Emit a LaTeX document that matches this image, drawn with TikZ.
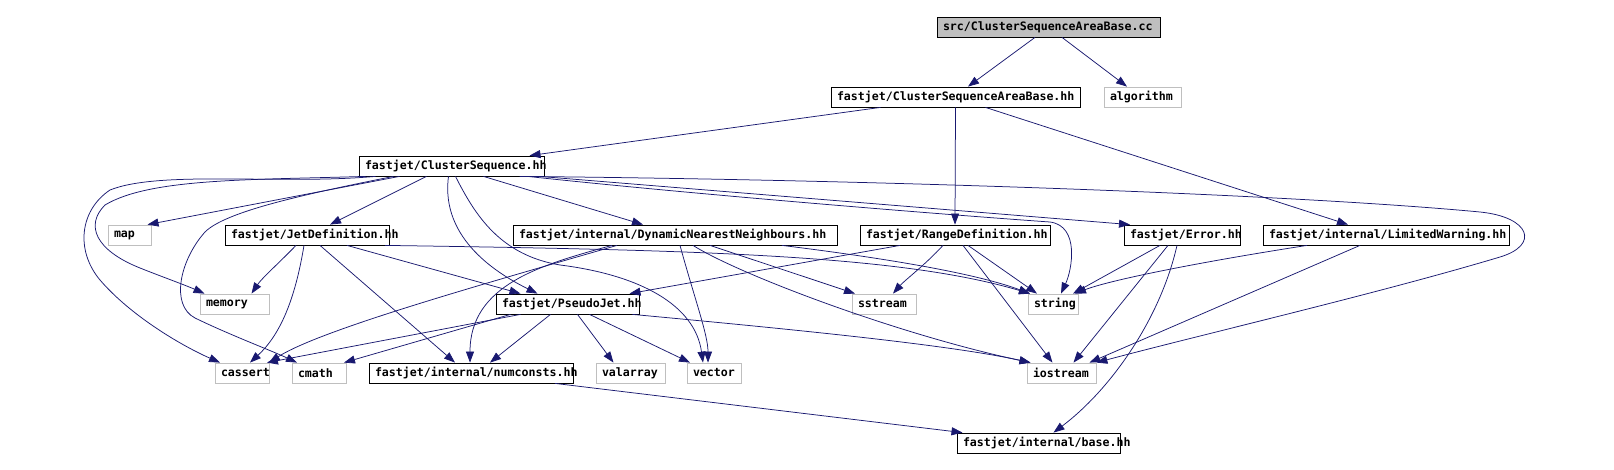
\documentclass[tikz,border=0pt]{standalone}
\usepackage{fontspec}
\newfontfamily\graphfont{DejaVu Sans Mono}
\usepackage{tikz}
\usetikzlibrary{arrows.meta,calc}
\definecolor{edgeblue}{HTML}{191970}
\definecolor{sysgray}{HTML}{BFBFBF}
\newcommand\fname[2]{\makebox[\dimexpr#1pt-12pt\relax][l]{#2}}
\tikzset{
  file/.style = {draw=black,fill=white,line width=0.8pt,minimum height=20pt,
                 inner xsep=6pt,inner ysep=0pt,
                 font=\graphfont\bfseries\fontsize{11.6}{12}\selectfont},
  sys/.style  = {file,draw=sysgray},
  src/.style  = {file,fill=sysgray},
  dep/.style  = {draw=edgeblue,line width=0.75pt,
                 -{Triangle[length=11pt,width=8pt]}},
}

\begin{document}
\begin{tikzpicture}[x=1pt,y=-1pt]
  \useasboundingbox (0,0) rectangle (1614,470);
  % project headers
  \node[src]  (root)      at (1048.5,27) {\fname{223}{src/ClusterSequenceAreaBase.cc}};
  \node[file] (csab)      at (955.5,97)  {\fname{249}{fastjet/ClusterSequenceAreaBase.hh}};
  \node[file] (cs)        at (451.5,166) {\fname{185}{fastjet/ClusterSequence.hh}};
  \node[file] (jetdef)    at (307,235)   {\fname{164}{fastjet/JetDefinition.hh}};
  \node[file] (dnn)       at (675,235)   {\fname{324}{fastjet/internal/DynamicNearestNeighbours.hh}};
  \node[file] (range)     at (955,235)   {\fname{190}{fastjet/RangeDefinition.hh}};
  \node[file] (error)     at (1182,235)  {\fname{116}{fastjet/Error.hh}};
  \node[file] (limwarn)   at (1386,235)  {\fname{246}{fastjet/internal/LimitedWarning.hh}};
  \node[file] (pseudojet) at (567.5,304) {\fname{143}{fastjet/PseudoJet.hh}};
  \node[file] (numconsts) at (471,373)   {\fname{204}{fastjet/internal/numconsts.hh}};
  \node[file] (base)      at (1038.5,443){\fname{163}{fastjet/internal/base.hh}};
  % system headers
  \foreach \id/\x/\y/\w in {algorithm/1142.5/97/77, map/129.5/235/43,
                            memory/234.5/304/69, sstream/884/304/64,
                            string/1053/304/50, cassert/242/373/54,
                            cmath/319/373/54, valarray/630.5/373/69,
                            vector/714/373/54, iostream/1061.5/373/69}{
    \node[sys] (\id) at (\x,\y) {\fname{\w}{\id}};
  }

  % source file
  \draw[dep] ([xshift=-13.5pt]root.south) -- ([xshift=12.5pt]csab.north);
  \draw[dep] ([xshift=13.5pt]root.south) -- ([xshift=-15.5pt]algorithm.north);
  % ClusterSequenceAreaBase.hh
  \draw[dep] ([xshift=-75pt]csab.south) -- ([xshift=78pt]cs.north);
  \draw[dep] (csab.south) -- (range.north);
  \draw[dep] ([xshift=30pt]csab.south) -- ([xshift=-38pt]limwarn.north);
  % ClusterSequence.hh
  \draw[dep] ([xshift=-52pt]cs.south) -- ([xshift=18pt]map.north);
  \draw[dep] ([xshift=-25pt]cs.south) -- ([xshift=23pt]jetdef.north);
  \draw[dep] ([xshift=32pt]cs.south) -- ([xshift=-32pt]dnn.north);
  \draw[dep] ([xshift=88pt]cs.south) -- ([xshift=-52pt]error.north);
  \draw[dep] ([xshift=-86pt]cs.south) .. controls (250,180) and (150,178) .. (105,205)
             .. controls (85,225) and (95,250) .. (140,268)
             .. controls (160,276) and (185,285) .. ([xshift=-30pt]memory.north);
  \draw[dep] ([xshift=-76pt]cs.south) .. controls (280,185) and (160,170) .. (110,190)
             .. controls (80,210) and (75,250) .. (100,280)
             .. controls (130,315) and (180,345) .. ([xshift=-22pt]cassert.north);
  \draw[dep] ([xshift=-58pt]cs.south) .. controls (300,195) and (225,212) .. (205,232)
             .. controls (180,260) and (170,305) .. (195,318)
             .. controls (230,335) and (270,350) .. ([xshift=-22pt]cmath.north);
  \draw[dep] ([xshift=-3pt]cs.south) .. controls (440,240) and (500,275)
             .. ([xshift=-30pt]pseudojet.north);
  \draw[dep] ([xshift=4pt]cs.south) .. controls (475,215) and (500,255) .. (560,265)
             .. controls (640,275) and (695,305) .. ([xshift=-11pt]vector.north);
  \draw[dep] ([xshift=76pt]cs.south) .. controls (700,195) and (950,215) .. (1050,222)
             .. controls (1080,226) and (1072,270) .. ([xshift=8pt]string.north);
  \draw[dep] ([xshift=68pt]cs.south) .. controls (900,180) and (1300,195) .. (1480,212)
             .. controls (1530,217) and (1540,245) .. (1500,257)
             .. controls (1380,293) and (1200,335) .. (iostream.north east);
  % JetDefinition.hh
  \draw[dep] ([xshift=-11pt]jetdef.south) .. controls (280,262) and (262,278)
             .. ([xshift=17pt]memory.north);
  \draw[dep] ([xshift=-3pt]jetdef.south) .. controls (295,300) and (280,335)
             .. ([xshift=8pt]cassert.north);
  \draw[dep] ([xshift=13pt]jetdef.south) -- ([xshift=-16pt]numconsts.north);
  \draw[dep] ([xshift=40pt]jetdef.south) -- ([xshift=-47pt]pseudojet.north);
  \draw[dep] ([xshift=78pt]jetdef.south) .. controls (700,250) and (900,255)
             .. ([xshift=-23pt]string.north);
  % DynamicNearestNeighbours.hh
  \draw[dep] ([xshift=-58pt]dnn.south) .. controls (480,285) and (320,330)
             .. ([xshift=27pt]cassert.north);
  \draw[dep] ([xshift=-63pt]dnn.south) .. controls (540,265) and (470,285)
             .. ([xshift=-1pt]numconsts.north);
  \draw[dep] ([xshift=5pt]dnn.south) .. controls (695,300) and (708,335)
             .. ([xshift=-6pt]vector.north);
  \draw[dep] ([xshift=35pt]dnn.south) -- ([xshift=-29pt]sstream.north);
  \draw[dep] ([xshift=18pt]dnn.south) .. controls (740,275) and (900,335)
             .. ([xshift=-31pt]iostream.north);
  \draw[dep] ([xshift=107pt]dnn.south) .. controls (900,260) and (980,275)
             .. ([xshift=-23pt]string.north);
  % RangeDefinition.hh
  \draw[dep] ([xshift=-55pt]range.south) -- ([xshift=62pt]pseudojet.north);
  \draw[dep] ([xshift=-12pt]range.south) .. controls (925,265) and (905,280)
             .. ([xshift=9pt]sstream.north);
  \draw[dep] ([xshift=13pt]range.south) -- ([xshift=-16pt]string.north);
  \draw[dep] ([xshift=8pt]range.south) -- ([xshift=-9pt]iostream.north);
  % Error.hh
  \draw[dep] ([xshift=-22pt]error.south) -- ([xshift=20pt]string.north);
  \draw[dep] ([xshift=-14pt]error.south) -- ([xshift=12pt]iostream.north);
  \draw[dep] ([xshift=-5pt]error.south) .. controls (1160,320) and (1110,390)
             .. ([xshift=15pt]base.north);
  % LimitedWarning.hh
  \draw[dep] ([xshift=-79pt]limwarn.south) .. controls (1200,262) and (1110,280)
             .. ([xshift=22pt]string.north);
  \draw[dep] ([xshift=-26pt]limwarn.south) -- ([xshift=28pt]iostream.north);
  % PseudoJet.hh
  \draw[dep] ([xshift=-47pt]pseudojet.south) -- ([xshift=25pt]cassert.north);
  \draw[dep] ([xshift=-57pt]pseudojet.south) -- ([xshift=25pt]cmath.north);
  \draw[dep] ([xshift=-17pt]pseudojet.south) -- ([xshift=19pt]numconsts.north);
  \draw[dep] ([xshift=10pt]pseudojet.south) -- ([xshift=-17pt]valarray.north);
  \draw[dep] ([xshift=22pt]pseudojet.south) -- ([xshift=-24pt]vector.north);
  \draw[dep] ([xshift=65pt]pseudojet.south) .. controls (800,330) and (950,345)
             .. ([xshift=-31pt]iostream.north);
  % numconsts.hh
  \draw[dep] ([xshift=84pt]numconsts.south) -- ([xshift=-76pt]base.north);
\end{tikzpicture}
\end{document}
